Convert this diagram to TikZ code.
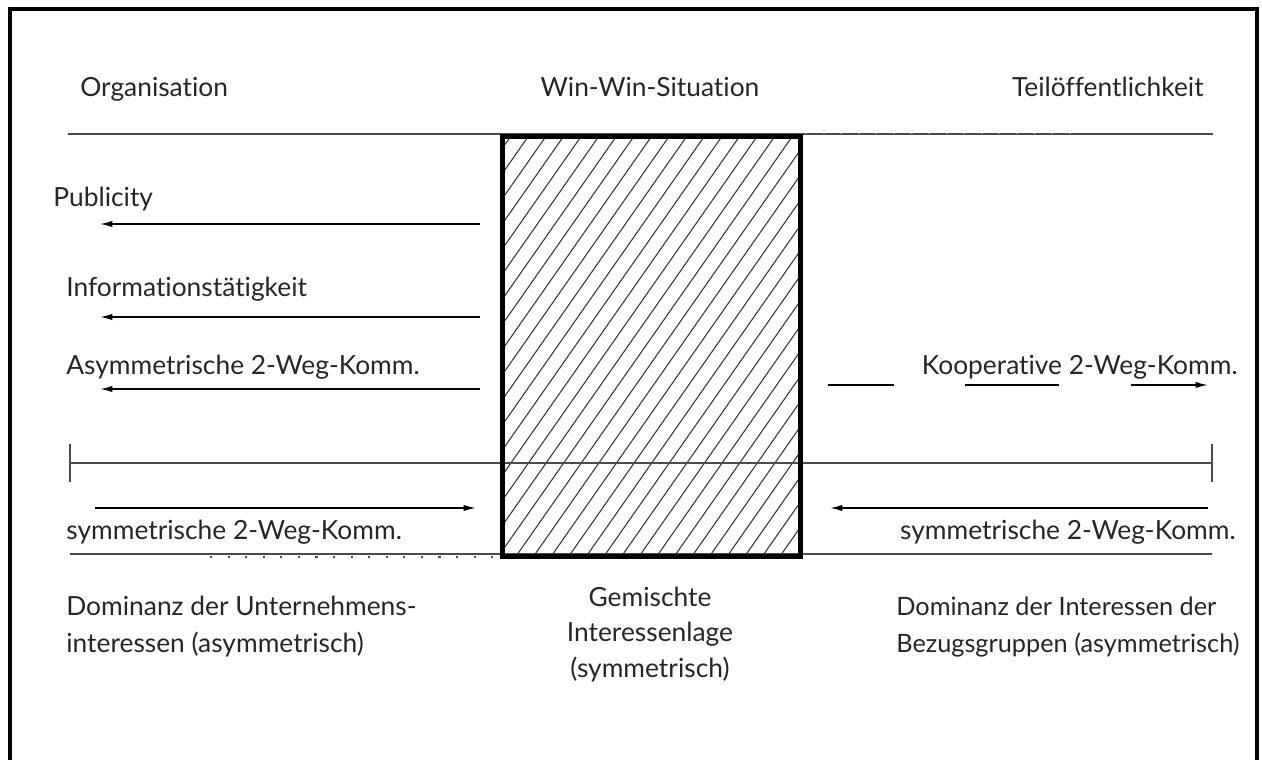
\documentclass[tikz,border=0pt]{standalone}
\usepackage{fontspec}
\setmainfont{Lato}[Ligatures={NoCommon,NoContextual}]
\usetikzlibrary{arrows.meta}
\begin{document}
\begin{tikzpicture}[x=0.02cm,y=-0.02cm,
  lbl/.style={inner sep=0pt, font=\fontsize{15}{21}\selectfont, text=black!85},
  rule/.style={draw=black!70, line width=0.9pt},
  arr/.style={draw=black, line width=0.9pt, -{Latex[length=7pt,width=3.6pt]}},
  hatch/.style={draw=black!80, line width=0.6pt},
  box/.style={draw=black, line width=2.8pt}
]
\useasboundingbox (0,0) rectangle (1262,760);
% frame
\draw[line width=2.4pt] (10,800) -- (10,9) -- (1257,9) -- (1257,800);

% headers
\node[lbl, anchor=base west] (org) at (80,97) {Organisation};
\node[lbl, anchor=base] (win) at (650,97) {Win-Win-Situation};
\node[lbl, anchor=base east] (teil) at (1204,97) {Teilöffentlichkeit};

% horizontal rules
\coordinate (tl) at (68,134);
\coordinate (tr) at (1213,134);
\draw[rule] (tl) -- (tr);
\coordinate (al) at (70,463);
\coordinate (ar) at (1212,463);
\draw[rule] (al) -- (ar);
\draw[rule] (70,444) -- (70,482);
\draw[rule] (1212,444) -- (1212,482);
\coordinate (bl) at (70,554);
\coordinate (br) at (1212,554);
\draw[rule] (bl) -- (br);
\draw[black!70, line width=0.6pt, dash pattern=on 1.2pt off 8.8pt] (210,557) -- (500,557);
\draw[black!45, line width=0.5pt, dash pattern=on 1.2pt off 8.8pt] (805,133) -- (1075,133);

% hatched box
\begin{scope}
  \clip (500,134) rectangle (798,554);
  \foreach \i in {-20,...,20} {
    \draw[hatch] (500+\i*17.6,554) -- ++(294,-420);
  }
\end{scope}
\draw[rule] (500,463) -- (798,463);
\node[box, minimum width=298*0.02cm, minimum height=420*0.02cm, anchor=north west, inner sep=0pt] (ww) at (500,134) {};

% left labels and arrows
\node[lbl, anchor=base west] (pub) at (53,207) {Publicity};
\coordinate (p1) at (480,224); \coordinate (p2) at (100,224);
\draw[arr] (p1) -- (p2);
\node[lbl, anchor=base west] (inf) at (66,297) {Informationstätigkeit};
\coordinate (i1) at (480,317); \coordinate (i2) at (100,317);
\draw[arr] (i1) -- (i2);
\node[lbl, anchor=base west] (asy) at (66,375) {Asymmetrische 2-Weg-Komm.};
\coordinate (a1) at (480,389); \coordinate (a2) at (100,389);
\draw[arr] (a1) -- (a2);

% Kooperative
\node[lbl, anchor=base east] (koop) at (1238,375) {Kooperative 2-Weg-Komm.};
\coordinate (k1) at (828,385); \coordinate (k2) at (894,385);
\draw[rule, draw=black] (k1) -- (k2);
\coordinate (k3) at (965,385); \coordinate (k4) at (1059,385);
\draw[rule, draw=black] (k3) -- (k4);
\coordinate (k5) at (1131,385); \coordinate (k6) at (1208,385);
\draw[arr] (k5) -- (k6);

% symmetrische
\coordinate (s1) at (95,508); \coordinate (s2) at (476,508);
\draw[arr] (s1) -- (s2);
\node[lbl, anchor=base west] (syml) at (66,539) {symmetrische 2-Weg-Komm.};
\coordinate (s3) at (1208,508); \coordinate (s4) at (830,508);
\draw[arr] (s3) -- (s4);
\node[lbl, anchor=base east] (symr) at (1236,539) {symmetrische 2-Weg-Komm.};

% bottom labels (anchor = baseline of last line)
\node[lbl, anchor=base west, align=left, font=\fontsize{15}{21}\selectfont] (dl) at (66,652) {Dominanz der Unternehmens-\\interessen (asymmetrisch)};
\node[lbl, anchor=base, align=center, font=\fontsize{15}{20}\selectfont] (gm) at (650,677) {Gemischte\\Interessenlage\\(symmetrisch)};
\node[lbl, anchor=base west, align=left, font=\fontsize{14.4}{21}\selectfont] (dr) at (896,652) {Dominanz der Interessen der\\Bezugsgruppen (asymmetrisch)};
\end{tikzpicture}
\end{document}
